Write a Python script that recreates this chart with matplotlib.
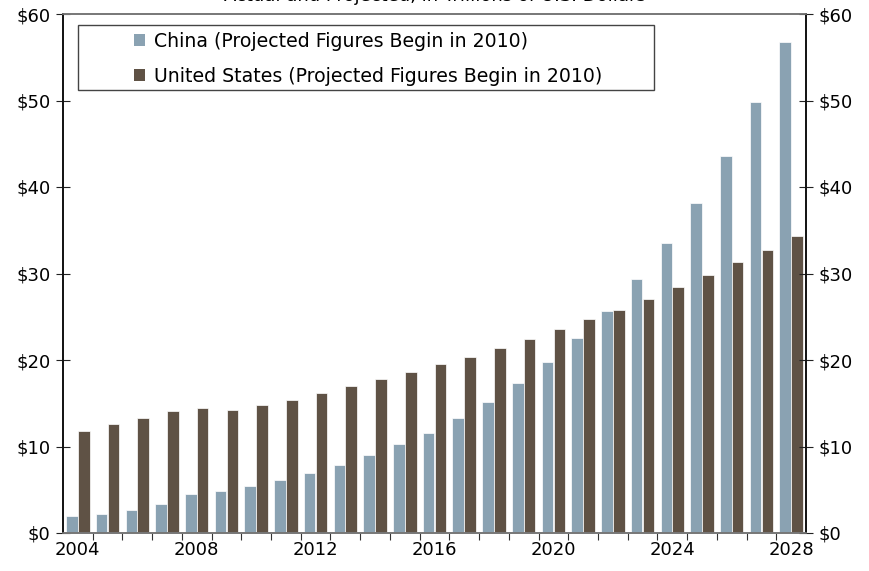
import numpy as np
import matplotlib
matplotlib.use("Agg")
import matplotlib.pyplot as plt
from matplotlib.patches import Patch, Rectangle

years = list(range(2004, 2029))
china = [2.0, 2.2, 2.7, 3.4, 4.5, 4.9, 5.4, 6.1, 6.9, 7.9, 9.0, 10.3, 11.6, 13.3,
         15.2, 17.3, 19.8, 22.5, 25.7, 29.4, 33.5, 38.2, 43.6, 49.8, 56.8]
usa = [11.8, 12.6, 13.3, 14.1, 14.4, 14.2, 14.8, 15.4, 16.2, 17.0, 17.8, 18.6, 19.5,
       20.4, 21.4, 22.4, 23.6, 24.7, 25.8, 27.1, 28.4, 29.8, 31.3, 32.7, 34.3]
yticks = [0, 10, 20, 30, 40, 50, 60]
year_labels = [2004, 2008, 2012, 2016, 2020, 2024, 2028]

china_color = '#8aa2b2'
usa_color = '#5f5245'

plt.rcParams['font.family'] = ['DejaVu Sans']

W, H = 869, 571
fig = plt.figure(figsize=(W / 100, H / 100), dpi=100)
ax = fig.add_axes([63 / W, 38 / H, (806 - 63) / W, (533 - 14) / H])

x = np.arange(len(years))
w = 0.39
ax.bar(x - w / 2 - 0.005, china, width=w, color=china_color, edgecolor='white', linewidth=0.5)
ax.bar(x + w / 2 + 0.005, usa, width=w, color=usa_color, edgecolor='white', linewidth=0.5)

ax.set_xlim(-0.5, len(years) - 0.5)
ax.set_ylim(0, 60)

# category ticks sit between the groups, labels every four years
ax.set_xticks(np.arange(len(years) - 1) + 0.5)
ax.set_xticklabels([])
ax.set_xticks([years.index(y) for y in year_labels], minor=True)
ax.set_xticklabels([str(y) for y in year_labels], minor=True, fontsize=13)
ax.tick_params(axis='x', which='major', direction='out', length=5, color='#333333')
ax.tick_params(axis='x', which='minor', length=0, pad=6)

ax.set_yticks(yticks)
ax.set_yticklabels([f'${v}' for v in yticks], fontsize=13)
ax.tick_params(axis='y', direction='inout', length=10, color='#222222', pad=4)

ax2 = ax.twinx()
ax2.set_ylim(0, 60)
ax2.set_yticks(yticks)
ax2.set_yticklabels([f'${v}' for v in yticks], fontsize=13)
ax2.tick_params(axis='y', direction='inout', length=10, color='#222222', pad=4)

for a in (ax, ax2):
    a.spines['left'].set_color('#111111')
    a.spines['right'].set_color('#111111')
    a.spines['top'].set_color('#777777')
    a.spines['bottom'].set_color('#777777')
    for s in a.spines.values():
        s.set_linewidth(1.2)

# legend box drawn separately so the entries can sit indented inside it
box = Rectangle((78 / W, 1 - 90 / H), (654 - 78) / W, (90 - 25) / H, transform=fig.transFigure,
                facecolor='white', edgecolor='#444444', linewidth=1.0, zorder=5)
fig.patches.append(box)

handles = [Patch(facecolor=china_color, label='China (Projected Figures Begin in 2010)'),
           Patch(facecolor=usa_color, label='United States (Projected Figures Begin in 2010)')]
leg = fig.legend(handles=handles, loc='upper left', bbox_to_anchor=(128 / W, 1 - 26 / H),
                 fontsize=13.6, frameon=False, handlelength=0.6, handleheight=0.6,
                 handletextpad=0.45, borderpad=0.3, labelspacing=0.85, borderaxespad=0)
leg.set_zorder(6)

fig.text(0.5, 1 - 1 / H, 'Actual and Projected, in Trillions of U.S. Dollars', ha='center',
         va='baseline', fontsize=13)

fig.savefig('out.png', dpi=100)
